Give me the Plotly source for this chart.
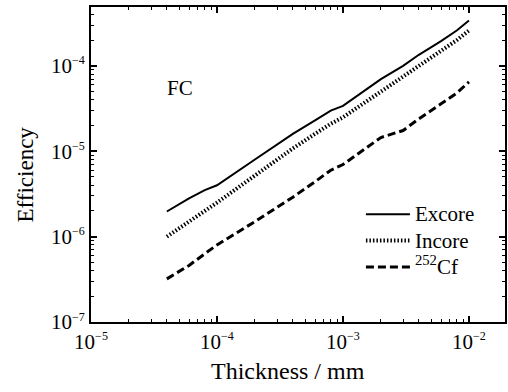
import plotly.graph_objects as go

thickness_mm = [4e-5, 6e-5, 8e-5, 1e-4, 2e-4, 4e-4, 6e-4, 8e-4, 1e-3, 2e-3, 3e-3, 4e-3, 6e-3, 8e-3, 1e-2]
excore = [1.97e-6, 2.8e-6, 3.5e-6, 4.0e-6, 8.0e-6, 1.6e-5, 2.3e-5, 3.0e-5, 3.4e-5, 7.0e-5, 1.0e-4, 1.35e-4, 1.95e-4, 2.6e-4, 3.4e-4]
incore = [1.0e-6, 1.5e-6, 2.0e-6, 2.5e-6, 5.2e-6, 1.08e-5, 1.6e-5, 2.1e-5, 2.5e-5, 5.1e-5, 7.5e-5, 1.0e-4, 1.5e-4, 2.0e-4, 2.6e-4]
cf252 = [3.2e-7, 4.6e-7, 6.3e-7, 8.0e-7, 1.5e-6, 2.9e-6, 4.4e-6, 6.0e-6, 7.0e-6, 1.45e-5, 1.75e-5, 2.4e-5, 3.6e-5, 4.8e-5, 6.5e-5]
series_names = ["Excore", "Incore", "<sup>252</sup>Cf"]

x_tickvals = [1e-5, 1e-4, 1e-3, 1e-2]
x_tickexp = ["−5", "−4", "−3", "−2"]
y_tickvals = [1e-7, 1e-6, 1e-5, 1e-4]
y_tickexp = ["−7", "−6", "−5", "−4"]

x_title = "Thickness / mm"
y_title = "Efficiency"
panel_label = "FC"

FONT = "Liberation Serif, Times New Roman, serif"


def power_label(e):
    return "10<sup><span style='font-size:12px'>" + e + "</span></sup>"


def big(t):
    return "<span style='font-size:21px'>" + t + "</span>"


fig = go.Figure()
fig.add_trace(go.Scatter(x=thickness_mm, y=excore, mode="lines", name=big(series_names[0]),
                         line=dict(color="black", width=2)))
fig.add_trace(go.Scatter(x=thickness_mm, y=incore, mode="lines", name=big(series_names[1]),
                         line=dict(color="black", width=4, dash="1.5px,2px")))
fig.add_trace(go.Scatter(x=thickness_mm, y=cf252, mode="lines", name=big(series_names[2]),
                         line=dict(color="black", width=3, dash="8px,4px")))

axis_common = dict(
    type="log", showgrid=False, zeroline=False, automargin=False,
    showline=True, linecolor="black", linewidth=2, mirror="ticks",
    ticks="inside", ticklen=6, tickwidth=1.5, tickcolor="black",
    tickfont=dict(family=FONT, size=21, color="black"),
    minor=dict(ticks="inside", ticklen=3, tickwidth=1, tickcolor="black", dtick="D1", showgrid=False),
)

fig.update_xaxes(**axis_common, range=[-5, -1.714],
                 tickmode="array", tickvals=x_tickvals, ticktext=[power_label(e) for e in x_tickexp])
fig.update_yaxes(**axis_common, range=[-7, -3.31],
                 tickmode="array", tickvals=y_tickvals, ticktext=[power_label(e) for e in y_tickexp])

# axis titles (placed as in the reference, slightly off-centre)
fig.add_annotation(text=x_title, xref="paper", yref="paper", x=0.476, y=-0.156,
                   xanchor="center", yanchor="middle", showarrow=False,
                   font=dict(family=FONT, size=24, color="black"))
fig.add_annotation(text=y_title, xref="paper", yref="paper", x=-0.158, y=0.467,
                   xanchor="center", yanchor="middle", textangle=-90, showarrow=False,
                   font=dict(family=FONT, size=23, color="black"))

fig.add_annotation(text=panel_label, x=-4.294, y=-4.26, xref="x", yref="y", showarrow=False,
                   font=dict(family=FONT, size=21, color="black"))

fig.update_layout(
    template="none",
    width=508, height=392,
    margin=dict(l=91, r=3, t=7, b=70),
    paper_bgcolor="white", plot_bgcolor="white",
    font=dict(family=FONT, color="black"),
    legend=dict(x=0.652, y=0.40, xanchor="left", yanchor="top",
                bgcolor="rgba(0,0,0,0)", font=dict(family=FONT, size=18, color="black"),
                itemwidth=44),
    showlegend=True,
)

fig.write_html("out.html", config={"displayModeBar": False},
               post_script="document.body.style.margin='0';")
